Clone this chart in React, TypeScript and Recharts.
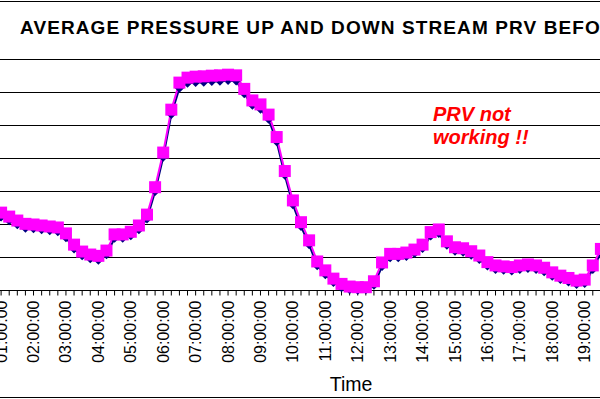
import { LineChart, Line, XAxis, YAxis, CartesianGrid } from 'recharts';

// 15-minute readings, 00:45 to 19:45 (the first and last sit just outside the cropped view)
const times = [
  '00:45:00',
  '01:00:00', '01:15:00', '01:30:00', '01:45:00',
  '02:00:00', '02:15:00', '02:30:00', '02:45:00',
  '03:00:00', '03:15:00', '03:30:00', '03:45:00',
  '04:00:00', '04:15:00', '04:30:00', '04:45:00',
  '05:00:00', '05:15:00', '05:30:00', '05:45:00',
  '06:00:00', '06:15:00', '06:30:00', '06:45:00',
  '07:00:00', '07:15:00', '07:30:00', '07:45:00',
  '08:00:00', '08:15:00', '08:30:00', '08:45:00',
  '09:00:00', '09:15:00', '09:30:00', '09:45:00',
  '10:00:00', '10:15:00', '10:30:00', '10:45:00',
  '11:00:00', '11:15:00', '11:30:00', '11:45:00',
  '12:00:00', '12:15:00', '12:30:00', '12:45:00',
  '13:00:00', '13:15:00', '13:30:00', '13:45:00',
  '14:00:00', '14:15:00', '14:30:00', '14:45:00',
  '15:00:00', '15:15:00', '15:30:00', '15:45:00',
  '16:00:00', '16:15:00', '16:30:00', '16:45:00',
  '17:00:00', '17:15:00', '17:30:00', '17:45:00',
  '18:00:00', '18:15:00', '18:30:00', '18:45:00',
  '19:00:00', '19:15:00', '19:30:00', '19:45:00',
];

// upstream (magenta squares)
const pressureUp = [
  24.5, 23.6, 22.4, 21.2, 20.2, 20.0, 19.7, 19.4, 19.1, 17.3,
  13.9, 11.8, 10.9, 10.5, 12.1, 17.0, 17.0, 17.8, 19.7, 23.0,
  31.3, 41.8, 54.8, 63.0, 64.5, 64.8, 64.9, 65.1, 65.2, 65.4,
  65.2, 61.1, 57.6, 56.4, 53.3, 46.5, 36.2, 27.3, 20.7, 15.2,
  8.8, 6.1, 3.6, 2.0, 1.2, 1.0, 1.0, 2.8, 8.5, 11.1,
  11.1, 11.5, 12.4, 13.9, 17.7, 18.5, 14.9, 13.1, 12.8, 11.9,
  10.6, 8.6, 7.6, 7.3, 7.1, 7.6, 7.9, 7.6, 6.9, 5.5,
  4.5, 3.8, 3.0, 3.3, 7.6, 12.6, 15.0,
];

// downstream (navy diamonds)
const pressureDown = [
  23.2, 22.3, 21.1, 19.9, 18.9, 18.7, 18.4, 18.1, 17.8, 16.0,
  12.6, 10.5, 9.6, 9.2, 10.8, 15.8, 15.8, 16.6, 18.4, 21.7,
  30.0, 40.4, 53.3, 61.3, 62.8, 63.0, 63.1, 63.3, 63.4, 63.6,
  63.5, 59.6, 56.1, 54.9, 51.9, 45.1, 34.9, 26.0, 19.4, 13.9,
  7.5, 4.8, 2.4, 0.8, 0.2, 0.1, 0.2, 1.6, 7.3, 9.9,
  9.9, 10.3, 11.2, 12.7, 16.5, 17.3, 13.7, 11.9, 11.6, 10.7,
  9.4, 7.4, 6.4, 6.1, 5.9, 6.4, 6.7, 6.4, 5.7, 4.3,
  3.3, 2.6, 1.8, 2.1, 6.4, 11.4, 13.8,
];

const yTicks = [0, 10, 20, 30, 40, 50, 60, 70];

const data = times.map((t, i) => ({ time: t, up: pressureUp[i], down: pressureDown[i] }));

const FONT = '"Liberation Sans", Arial, sans-serif';

function HourTick({ x, y, payload }: any) {
  const v: string = payload.value;
  if (!v.endsWith(':00:00')) return <g />;
  return (
    <text
      x={x}
      y={y}
      transform={`rotate(-90 ${x} ${y})`}
      textAnchor="end"
      dominantBaseline="central"
      fontSize={16}
      fontFamily={FONT}
      fill="#000"
    >
      {v}
    </text>
  );
}

const squareDot = (p: any) => (
  <rect key={p.index} x={p.cx - 6} y={p.cy - 6} width={12} height={12} fill="#FF00FF" />
);

const diamondDot = (p: any) => (
  <path
    key={p.index}
    d={`M${p.cx},${p.cy - 4.5}L${p.cx + 4.5},${p.cy}L${p.cx},${p.cy + 4.5}L${p.cx - 4.5},${p.cy}Z`}
    fill="#000080"
  />
);

export default function App() {
  return (
    <div style={{ position: 'absolute', left: 0, top: 0, width: 600, height: 399, overflow: 'hidden', background: '#fff' }}>
      {/* frame lines of the cropped chart */}
      <div style={{ position: 'absolute', left: 0, top: 1, width: 600, height: 1, background: '#000' }} />
      <div style={{ position: 'absolute', left: 0, top: 397, width: 600, height: 1, background: '#000' }} />

      <div
        style={{
          position: 'absolute', left: 20, top: 17.4, whiteSpace: 'nowrap',
          fontFamily: FONT, fontWeight: 'bold', fontSize: 19, letterSpacing: 1.1,
          lineHeight: '22px', color: '#000',
        }}
      >
        AVERAGE PRESSURE UP AND DOWN STREAM PRV BEFORE
      </div>

      <div style={{ position: 'absolute', left: -7, top: 0 }}>
        <LineChart width={616} height={399} data={data} margin={{ top: 59.5, right: 0, bottom: 0, left: 0 }}>
          <CartesianGrid vertical={false} stroke="#000" strokeWidth={1} />
          <XAxis
            dataKey="time"
            interval={0}
            height={108.5}
            tick={HourTick}
            tickSize={5}
            tickMargin={5}
            axisLine={{ stroke: '#000' }}
            tickLine={{ stroke: '#000' }}
          />
          <YAxis hide domain={[0, 70]} ticks={yTicks} />
          <Line
            dataKey="down"
            stroke="#000080"
            strokeWidth={2}
            dot={diamondDot}
            activeDot={false}
            isAnimationActive={false}
          />
          <Line
            dataKey="up"
            stroke="#FF00FF"
            strokeWidth={2}
            dot={squareDot}
            activeDot={false}
            isAnimationActive={false}
          />
        </LineChart>
      </div>

      <div
        style={{
          position: 'absolute', left: 433, top: 103.3, fontFamily: FONT, fontWeight: 'bold',
          fontStyle: 'italic', fontSize: 20, lineHeight: '23px', color: '#FF0000', whiteSpace: 'nowrap',
        }}
      >
        PRV not
        <br />
        working !!
      </div>

      <div
        style={{
          position: 'absolute', left: 301, width: 100, top: 373, textAlign: 'center',
          fontFamily: FONT, fontSize: 19.5, lineHeight: '22px', color: '#000',
        }}
      >
        Time
      </div>
    </div>
  );
}
